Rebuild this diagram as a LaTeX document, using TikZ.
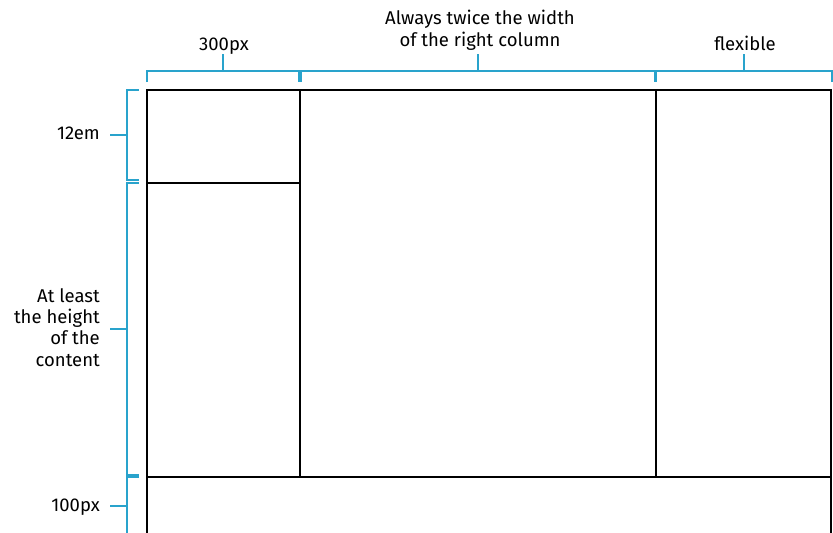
\documentclass[tikz,border=0pt]{standalone}
\usepackage{fontspec}
\setmainfont{Fira Sans}
\usetikzlibrary{positioning,calc}
\definecolor{dimcyan}{RGB}{41,163,204}
\tikzset{
  frame/.style={draw=black,line width=2.8pt},
  dimline/.style={draw=dimcyan,line width=1.6pt},
  dimlabel/.style={font=\fontsize{18.5}{21.3}\selectfont,align=center,inner sep=0pt},
  sidelabel/.style={dimlabel,align=right,anchor=base east},
}

\begin{document}
\begin{tikzpicture}[x=1pt,y=-1pt]
\useasboundingbox (0,0) rectangle (833,533);
\clip (0,0) rectangle (833,533);
% layout frame
\draw[frame] (147,90) rectangle (831,600);
\draw[frame] (300,90) -- (300,477);
\draw[frame] (656,90) -- (656,477);
\draw[frame] (147,183) -- (300,183);
\draw[frame] (147,477) -- (831,477);
% top brackets
\foreach \a/\b/\n in {147/299/cola,301/655/colb,656/832/colc}{
  \draw[dimline] (\a,82) -- (\a,71) -- (\b,71) -- (\b,82);
  \coordinate (\n) at ({(\a+\b)/2},71);
}
\node[dimlabel,anchor=base] (lbl300) at (224,50) {300px};
\node[dimlabel,anchor=base] (lblwide) at (480,46) {Always twice the width\\of the right column};
\node[dimlabel,anchor=base] (lblflex) at (745,50) {flexible};
\draw[dimline] (cola) -- (cola |- 0,54);
\draw[dimline] (colb) -- (colb |- 0,54);
\draw[dimline] (colc) -- (colc |- 0,54);
% left brackets
\foreach \a/\b/\n in {90/180/rowa,183/475/rowb,477/560/rowc}{
  \draw[dimline] (139,\a) -- (127,\a) -- (127,\b) -- (139,\b);
  \coordinate (\n) at (127,{(\a+\b)/2});
}
\node[sidelabel] (lbl12em) at (100,139) {12em};
\node[sidelabel] (lblcontent) at (100,366) {At least\\the height\\of the\\content};
\node[sidelabel] (lbl100) at (100,511) {100px};
\draw[dimline] (rowa) -- (110,0 |- rowa);
\draw[dimline] (rowb) -- (110,0 |- rowb);
\draw[dimline] (127,506) -- (110,506);
\end{tikzpicture}
\end{document}
